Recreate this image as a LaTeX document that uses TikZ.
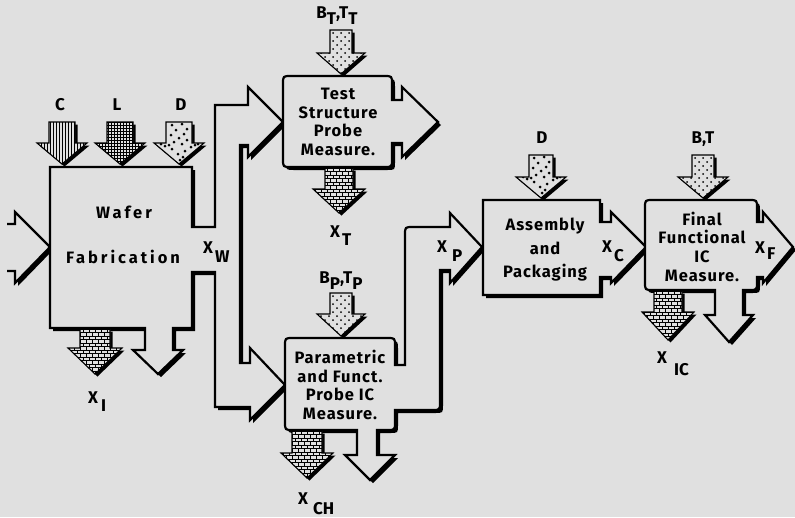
\documentclass[tikz,border=0pt]{standalone}
\usepackage{fontspec}
\setmainfont{Fira Sans}
\definecolor{bgc}{RGB}{224,224,224}
\tikzset{
  outl/.style={line width=2.2pt, fill=bgc, line join=miter},
  shad/.style={preaction={fill=black, transform canvas={shift={(3pt,-3pt)}}}},
  txt/.style={font=\fontsize{16.5}{18.7}\selectfont\bfseries\addfontfeatures{LetterSpace=6}, align=center, inner sep=0pt},
  lbl/.style={font=\fontsize{17}{19}\selectfont\bfseries, inner sep=0pt},
}
\newcommand\wide[1]{{\addfontfeatures{LetterSpace=18}#1}}
\newcommand\sdown[1]{\raisebox{-6pt}{#1}}
% down block arrow: cx, ytop, yhead, ytip, shaft half, head half, pattern
\newcommand\dnarrow[7]{%
  \fill[shift={(2.5,2.5)}] (#1-#5,#2) -- (#1+#5,#2) -- (#1+#5,#3) -- (#1+#6,#3) -- (#1,#4) -- (#1-#6,#3) -- (#1-#5,#3) -- cycle;
  \begin{scope}
    \clip (#1-#5,#2) -- (#1+#5,#2) -- (#1+#5,#3) -- (#1+#6,#3) -- (#1,#4) -- (#1-#6,#3) -- (#1-#5,#3) -- cycle;
    \fill[bgc] (#1-40,#2-2) rectangle (#1+40,#4+2);
    #7{#1}{#2}
  \end{scope}
  \draw[line width=1.1pt, line join=miter] (#1-#5,#2) -- (#1+#5,#2) -- (#1+#5,#3) -- (#1+#6,#3) -- (#1,#4) -- (#1-#6,#3) -- (#1-#5,#3) -- cycle;
}
\newcommand\patstripes[2]{\foreach \xx in {-30,-27,...,30}{\draw[line width=1pt] (#1+\xx,#2) -- (#1+\xx,#2+50);}}
\newcommand\patgrid[2]{\foreach \xx in {-30,-27,...,30}{\draw[line width=0.7pt] (#1+\xx,#2) -- (#1+\xx,#2+50);}%
  \foreach \yy in {0,3,...,50}{\draw[line width=0.7pt] (#1-30,#2+\yy) -- (#1+30,#2+\yy);}}
\newcommand\patdots[2]{\foreach \yy in {3,11,...,51}{\foreach \xx in {-24,-16,...,24}{\fill (#1+\xx,#2+\yy) circle[radius=1];}}%
  \foreach \yy in {7,15,...,51}{\foreach \xx in {-20,-12,...,20}{\fill (#1+\xx,#2+\yy) circle[radius=1];}}}
\newcommand\patrand[2]{\foreach \xx/\yy in {-7/3,3/2,8/7,-3/8,5/12,-8/13,0/16,8/18,-5/20,3/22,-14/24,12/25,-7/27,6/29,-1/32,4/35,-10/23,16/23,1/38,-18/22,19/22}{\fill (#1+\xx,#2+\yy) circle[radius=1.5];}}
\newcommand\patbricks[2]{\foreach \yy in {0,3.5,...,52}{\draw[line width=0.9pt] (#1-30,#2+\yy) -- (#1+30,#2+\yy);}%
  \foreach \yy in {0,7,...,49}{\foreach \xx in {-30,-24,...,30}{\draw[line width=0.9pt] (#1+\xx,#2+\yy) -- (#1+\xx,#2+\yy+3.5) (#1+\xx+3,#2+\yy+3.5) -- (#1+\xx+3,#2+\yy+7);}}}
\begin{document}
\begin{tikzpicture}[x=1pt,y=-1pt]
\useasboundingbox (0,0) rectangle (795,517);
\fill[bgc] (0,0) rectangle (795,517);

% left input arrow
\path[fill=bgc, shad] (15,212) -- (50,247) -- (15,283) -- cycle;
\draw[line width=2.2pt, line join=miter] (7,224) -- (15,224) -- (15,212) -- (50,247) -- (15,283) -- (15,271) -- (7,271);

% wafer fabrication with X_W conduit
\filldraw[outl, shad] (50,167) -- (192,167) -- (192,227) -- (215,227) -- (215,105) -- (248,105) -- (248,87) -- (283,122) -- (248,157) -- (248,145) -- (240,145) -- (240,363) -- (250,363) -- (250,348) -- (285,385) -- (250,420) -- (250,407) -- (215,407) -- (215,272) -- (192,272) -- (192,328) -- (173,328) -- (173,350) -- (183,350) -- (158,374) -- (133,350) -- (145,350) -- (145,328) -- (50,328) -- cycle;

% test structure box
\filldraw[outl, shad] (283,84) .. controls (283,76) .. (291,76) -- (384,76) .. controls (392,76) .. (392,84) -- (392,100) -- (402,100) -- (402,87) -- (438,122) -- (402,157) -- (402,143) -- (392,143) -- (392,159) .. controls (392,167) .. (384,167) -- (291,167) .. controls (283,167) .. (283,159) -- cycle;

% parametric box with X_P conduit
\filldraw[outl, shad] (285,346) .. controls (285,338) .. (293,338) -- (387,338) .. controls (395,338) .. (395,346) -- (395,365) -- (405,365) -- (405,235) .. controls (405,227) .. (413,227) -- (450,227) -- (450,213) -- (482,247) -- (450,283) -- (450,270) -- (440,270) -- (440,402) .. controls (440,410) .. (432,410) -- (395,410) -- (395,422) .. controls (395,430) .. (387,430) -- (377,430) -- (377,455) -- (395,455) -- (370,480) -- (345,455) -- (357,455) -- (357,430) -- (293,430) .. controls (285,430) .. (285,422) -- cycle;

% assembly box
\filldraw[outl, shad] (483,200) -- (600,200) -- (600,222) -- (611,222) -- (611,212) -- (646,247) -- (611,283) -- (611,277) -- (600,277) -- (600,295) -- (483,295) -- cycle;

% final functional box
\filldraw[outl, shad] (645,208) .. controls (645,200) .. (653,200) -- (749,200) .. controls (757,200) .. (757,208) -- (757,222) -- (763,222) -- (763,212) -- (793,247) -- (763,283) -- (763,277) -- (757,277) -- (757,282) .. controls (757,290) .. (749,290) -- (743,290) -- (743,315) -- (753,315) -- (729,342) -- (705,315) -- (715,315) -- (715,290) -- (653,290) .. controls (645,290) .. (645,282) -- cycle;

% input block arrows
\dnarrow{62}{122}{143}{164}{13}{25}{\patstripes}
\dnarrow{120}{122}{143}{164}{13}{25}{\patgrid}
\dnarrow{179}{122}{143}{164}{13}{25}{\patrand}
\dnarrow{341}{30}{53}{74}{11}{24}{\patdots}
\dnarrow{341}{293}{314}{336}{11}{24}{\patdots}
\dnarrow{541}{155}{177}{198}{12}{25}{\patrand}
\dnarrow{703}{155}{177}{198}{11}{25}{\patdots}

% output block arrows
\dnarrow{95}{329}{348}{374}{15}{27}{\patbricks}
\dnarrow{339}{168}{189}{213}{14}{26}{\patbricks}
\dnarrow{307}{431}{453}{478}{15}{26}{\patbricks}
\dnarrow{668}{291}{312}{340}{14}{26}{\patbricks}

% box texts
\node[txt] (wafer) at (124,212) {\wide{Wafer}};
\node[txt] (fab) at (123,257) {\wide{Fabrication}};
\node[txt] (test) at (338,122) {Test\\Structure\\Probe\\Measure.};
\node[txt] (param) at (340,385) {Parametric\\and Funct.\\Probe IC\\Measure.};
\node[txt, font=\fontsize{16.5}{23.5}\selectfont\bfseries\addfontfeatures{LetterSpace=6}] (assy) at (545,250) {Assembly\\and\\Packaging};
\node[txt] (final) at (702,246.5) {Final\\Functional\\IC\\Measure.};

% input labels
\node[lbl, anchor=base] (lc) at (60,110) {C};
\node[lbl, anchor=base] (ll) at (117,110) {L};
\node[lbl, anchor=base] (ld) at (181,110) {D};
\node[lbl, anchor=base] (lbt) at (337,18) {B\sdown{T},T\sdown{T}};
\node[lbl, anchor=base] (lbp) at (341,283) {B\sdown{P},T\sdown{P}};
\node[lbl, anchor=base] (ld2) at (542,143) {D};
\node[lbl, anchor=base] (lbt2) at (703,143) {B,T};

% output labels
\node[lbl, anchor=base west] (xw) at (203,253) {X\hspace{2pt}\raisebox{-9pt}{W}};
\node[lbl, anchor=base west] (xi) at (88,403) {X\hspace{3pt}\raisebox{-8pt}{I}};
\node[lbl, anchor=base west] (xt) at (330,237) {X\hspace{2pt}\raisebox{-8pt}{T}};
\node[lbl, anchor=base west] (xch) at (298,504) {X\hspace{5pt}\raisebox{-10pt}{CH}};
\node[lbl, anchor=base west] (xp) at (437,252) {X\hspace{5pt}\raisebox{-9pt}{P}};
\node[lbl, anchor=base west] (xc) at (602,252) {X\hspace{2pt}\raisebox{-9pt}{C}};
\node[lbl, anchor=base west] (xf) at (755,253) {X\hspace{2pt}\raisebox{-6pt}{F}};
\node[lbl, anchor=base west] (xic) at (657,363) {X\hspace{7pt}\raisebox{-12pt}{IC}};
\end{tikzpicture}
\end{document}
